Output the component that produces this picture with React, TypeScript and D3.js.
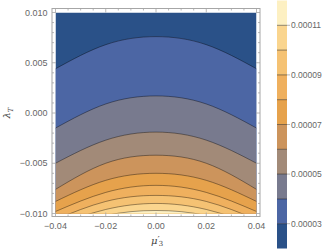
import * as d3 from "d3";
import React from "react";

// contour levels of the plotted quantity
const levels = [0.00003, 0.00004, 0.00005, 0.00006, 0.00007, 0.00008, 0.00009, 0.0001, 0.00011];

const muSamples = [-0.04, -0.02, 0, 0.02, 0.04];

// lambda_T of each contour at the mu samples above (values below -0.010 are estimated, outside the frame)
const contour3 = [0.0044, 0.0068, 0.0076, 0.0068, 0.0044];
const contour4 = [-0.0015, 0.0009, 0.0017, 0.0009, -0.0015];
const contour5 = [-0.005, -0.0027, -0.0019, -0.0027, -0.005];
const contour6 = [-0.0076, -0.005, -0.0042, -0.005, -0.0076];
const contour7 = [-0.0088, -0.0067, -0.006, -0.0067, -0.0088];
const contour8 = [-0.0098, -0.0079, -0.0072, -0.0079, -0.0098];
const contour9 = [-0.0106, -0.0088, -0.0082, -0.0088, -0.0106];
const contour10 = [-0.0112, -0.0096, -0.009, -0.0096, -0.0112];
const contour11 = [-0.0117, -0.0102, -0.0097, -0.0102, -0.0117];
const contours = [contour3, contour4, contour5, contour6, contour7, contour8, contour9, contour10, contour11];

// band colours, lowest value first
const bandColors = [
  "#2a5188", "#4c66a4", "#787a8e", "#a28a78", "#cc945c",
  "#e6a24c", "#efb05e", "#f5c273", "#fad58e", "#fdf0c2",
];

const muTicks = [-0.04, -0.02, 0, 0.02, 0.04];
const lambdaTicks = [-0.01, -0.005, 0, 0.005, 0.01];
const legendTicks = [0.00003, 0.00005, 0.00007, 0.00009, 0.00011];

const font = "'Liberation Sans', Arial, sans-serif";
const frameColor = "#a6a6a6";
const labelColor = "#666";

export default function App() {
  const x = d3.scaleLinear().domain([-0.04, 0.04]).range([55.5, 256.5]);
  const y = d3.scaleLinear().domain([-0.01, 0.01]).range([213.5, 12.5]);
  const c = d3.scaleLinear().domain([0.00002, 0.00012]).range([248.5, 0.5]);

  const frame = { x0: 52, x1: 260, y0: 8.5, y1: 216.5 };

  const area = d3
    .area<number>()
    .x((_, i) => x(muSamples[i]))
    .y0(y(-0.014))
    .y1((d) => y(d))
    .curve(d3.curveNatural);
  const line = d3
    .line<number>()
    .x((_, i) => x(muSamples[i]))
    .y((d) => y(d))
    .curve(d3.curveNatural);

  const xMinor = x.ticks(16);
  const yMinor = y.ticks(20);

  const barX = 277;
  const barW = 10;
  const bandEdges = [0.00002, ...levels, 0.00012];

  return (
    <svg width={327} height={250} style={{ position: "absolute", left: 0, top: 0 }}>
      <defs>
        <clipPath id="plotClip">
          <rect x={x(-0.04)} y={y(0.01)} width={x(0.04) - x(-0.04)} height={y(-0.01) - y(0.01)} />
        </clipPath>
      </defs>

      <g clipPath="url(#plotClip)">
        <rect x={x(-0.04)} y={y(0.01)} width={x(0.04) - x(-0.04)} height={y(-0.01) - y(0.01)} fill={bandColors[0]} />
        {contours.map((d, i) => (
          <path key={"a" + i} d={area(d) || ""} fill={bandColors[i + 1]} />
        ))}
        {contours.map((d, i) => (
          <path key={"l" + i} d={line(d) || ""} fill="none" stroke="#000" strokeOpacity={0.55} strokeWidth={0.7} />
        ))}
      </g>

      {/* frame */}
      <rect x={frame.x0} y={frame.y0} width={frame.x1 - frame.x0} height={frame.y1 - frame.y0} fill="none" stroke={frameColor} strokeWidth={1} />
      {xMinor.map((t) => {
        const major = muTicks.some((m) => Math.abs(m - t) < 1e-9);
        const len = major ? 4 : 2;
        return (
          <g key={"xt" + t} stroke={frameColor} strokeWidth={0.8}>
            <line x1={x(t)} x2={x(t)} y1={frame.y1} y2={frame.y1 - len} />
            <line x1={x(t)} x2={x(t)} y1={frame.y0} y2={frame.y0 + len} />
          </g>
        );
      })}
      {yMinor.map((t) => {
        const major = lambdaTicks.some((m) => Math.abs(m - t) < 1e-9);
        const len = major ? 4 : 2;
        return (
          <g key={"yt" + t} stroke={frameColor} strokeWidth={0.8}>
            <line x1={frame.x0} x2={frame.x0 + len} y1={y(t)} y2={y(t)} />
            <line x1={frame.x1} x2={frame.x1 - len} y1={y(t)} y2={y(t)} />
          </g>
        );
      })}

      {/* tick labels */}
      {muTicks.map((t) => (
        <text key={"xl" + t} x={x(t)} y={228.5} textAnchor="middle" fontFamily={font} fontSize={9} fill={labelColor}>
          {t < 0 ? "\u2212" + d3.format(".2f")(-t) : d3.format(".2f")(t)}
        </text>
      ))}
      {lambdaTicks.map((t) => (
        <text key={"yl" + t} x={47.5} y={y(t) + 3.2} textAnchor="end" fontFamily={font} fontSize={9} fill={labelColor}>
          {t < 0 ? "\u2212" + d3.format(".3f")(-t) : d3.format(".3f")(t)}
        </text>
      ))}

      {/* axis titles */}
      <text x={157} y={244} textAnchor="middle" fontFamily="'DejaVu Serif', serif" fontSize={10} fill="#444">
        <tspan fontStyle="italic">μ</tspan>
        <tspan dy={-1} fontSize={10}>{"\u2032"}</tspan>
        <tspan dx={-1} dy={3} fontSize={7}>3</tspan>
      </text>
      <text transform={`translate(10,${y(0)}) rotate(-90)`} textAnchor="middle" fontFamily="'DejaVu Serif', serif" fontSize={10} fill="#444">
        <tspan fontStyle="italic">λ</tspan>
        <tspan dy={2.5} fontSize={7} fontStyle="italic">T</tspan>
      </text>

      {/* colour bar */}
      {bandColors.map((col, i) => (
        <rect key={"b" + i} x={barX} width={barW} y={c(bandEdges[i + 1])} height={c(bandEdges[i]) - c(bandEdges[i + 1])} fill={col} />
      ))}
      {levels.map((v) => (
        <line key={"bl" + v} x1={barX} x2={barX + barW} y1={c(v)} y2={c(v)} stroke="#000" strokeOpacity={0.55} strokeWidth={0.8} />
      ))}
      {legendTicks.map((v) => (
        <g key={"lt" + v}>
          <line x1={barX + barW} x2={barX + barW + 3} y1={c(v)} y2={c(v)} stroke={frameColor} strokeWidth={0.8} />
          <text x={barX + barW + 4} y={c(v) + 3} fontFamily={font} fontSize={8.5} fill={labelColor}>
            {d3.format(".5f")(v)}
          </text>
        </g>
      ))}
    </svg>
  );
}
